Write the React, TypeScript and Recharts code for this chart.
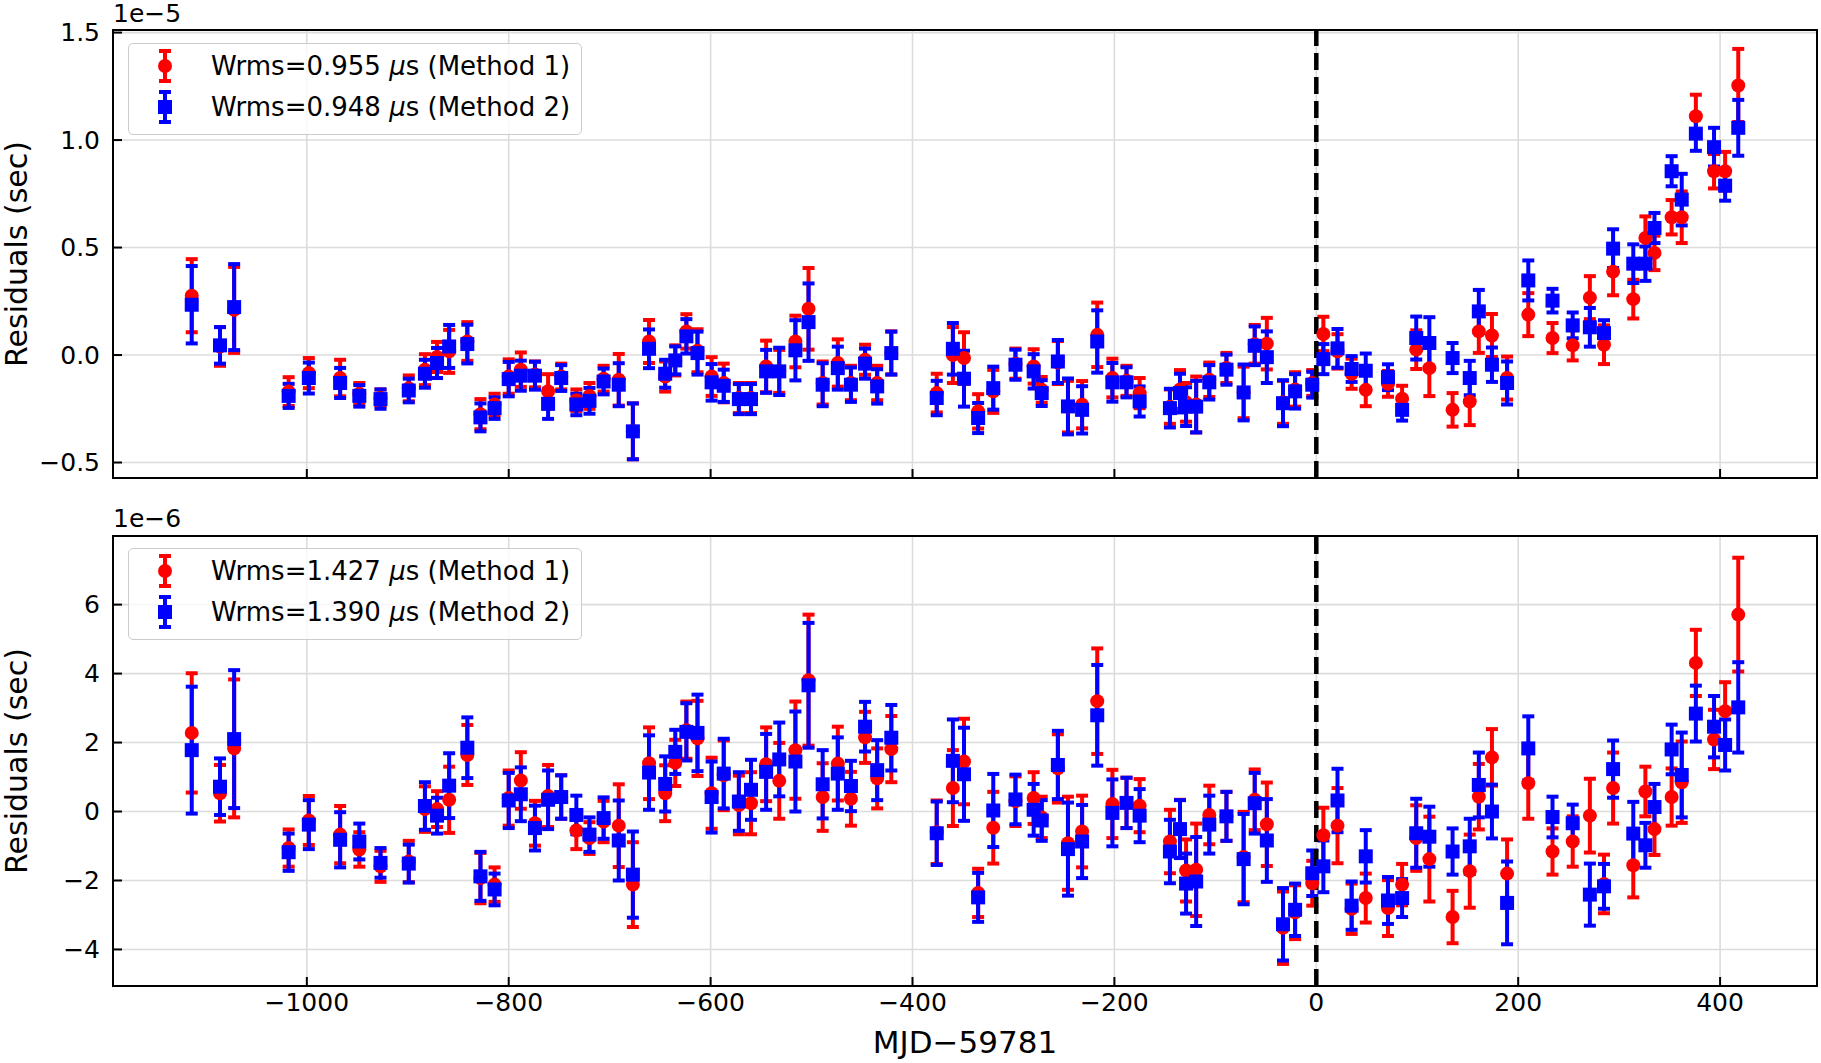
import React from 'react';
import {
  ScatterChart,
  Scatter,
  XAxis,
  YAxis,
  CartesianGrid,
  ErrorBar,
  ReferenceLine,
  ReferenceArea,
} from 'recharts';

// ---------------- data ----------------
const mjd = [
  -1114, -1086, -1072, -1018, -998, -967, -948, -927, -899, -883,
  -871, -859, -841, -828, -814, -800, -788, -774, -761, -748,
  -733, -720, -706, -691, -677, -661, -645, -635, -624, -613,
  -599, -587, -572, -560, -545, -532, -516, -503, -489, -474,
  -461, -447, -435, -421, -376, -360, -349, -335, -320, -298,
  -280, -272, -256, -246, -232, -217, -202, -188, -175, -145,
  -135, -129, -119, -106, -89, -72, -61, -49, -33, -21,
  -4, 7, 21, 35, 49, 71, 85, 99, 112, 135,
  152, 161, 174, 189, 210, 234, 254, 271, 285, 294,
  314, 326, 335, 352, 362, 376, 394, 405, 418,
];

// top panel (units of 1e-5 s)
const topMethod1 = [
  0.276, 0.04, 0.21, -0.17, -0.084, -0.107, -0.18, -0.2, -0.155, -0.068,
  -0.009, 0.017, 0.063, -0.275, -0.23, -0.1, -0.068, -0.09, -0.169, -0.1,
  -0.21, -0.19, -0.11, -0.115, -0.355, 0.063, -0.1, -0.025, 0.11, 0.02,
  -0.1, -0.13, -0.2, -0.2, -0.053, -0.076, 0.063, 0.215, -0.13, -0.037,
  -0.13, -0.022, -0.13, 0.01, -0.177, 0.0, -0.014, -0.262, -0.169, -0.04,
  -0.053, -0.162, -0.035, -0.24, -0.231, 0.094, -0.107, -0.12, -0.177, -0.24,
  -0.16, -0.22, -0.23, -0.115, -0.06, -0.174, 0.05, 0.053, -0.22, -0.16,
  -0.13, 0.098, 0.017, -0.087, -0.162, -0.134, -0.203, 0.025, -0.061, -0.255,
  -0.216, 0.11, 0.091, -0.107, 0.188, 0.079, 0.045, 0.267, 0.048, 0.388,
  0.26, 0.545, 0.475, 0.641, 0.641, 1.111, 0.855, 0.855, 1.254,
];
const topMethod1Err = [
  0.17, 0.09, 0.2, 0.067, 0.07, 0.085, 0.05, 0.04, 0.06, 0.072,
  0.07, 0.1, 0.09, 0.07, 0.05, 0.08, 0.08, 0.06, 0.08, 0.06,
  0.05, 0.06, 0.06, 0.12, 0.13, 0.1, 0.07, 0.07, 0.08, 0.1,
  0.09, 0.09, 0.07, 0.07, 0.12, 0.1, 0.12, 0.19, 0.1, 0.11,
  0.08, 0.07, 0.08, 0.1, 0.09, 0.13, 0.12, 0.08, 0.1, 0.07,
  0.08, 0.06, 0.1, 0.12, 0.11, 0.15, 0.09, 0.07, 0.07, 0.08,
  0.09, 0.09, 0.13, 0.08, 0.07, 0.12, 0.09, 0.12, 0.1, 0.08,
  0.06, 0.08, 0.08, 0.07, 0.076, 0.06, 0.06, 0.09, 0.13, 0.078,
  0.11, 0.1, 0.1, 0.1, 0.1, 0.07, 0.07, 0.1, 0.09, 0.11,
  0.09, 0.1, 0.08, 0.08, 0.12, 0.1, 0.08, 0.09, 0.17,
];
const topMethod2 = [
  0.234, 0.045, 0.223, -0.19, -0.107, -0.13, -0.19, -0.205, -0.165, -0.087,
  -0.037, 0.04, 0.051, -0.29, -0.247, -0.112, -0.096, -0.096, -0.227, -0.107,
  -0.23, -0.213, -0.123, -0.138, -0.355, 0.029, -0.087, -0.025, 0.087, 0.009,
  -0.127, -0.143, -0.205, -0.205, -0.076, -0.076, 0.022, 0.153, -0.138, -0.061,
  -0.138, -0.04, -0.146, 0.009, -0.2, 0.029, -0.11, -0.293, -0.154, -0.045,
  -0.076, -0.177, -0.03, -0.239, -0.255, 0.063, -0.127, -0.127, -0.216, -0.247,
  -0.177, -0.24, -0.24, -0.127, -0.068, -0.174, 0.043, -0.01, -0.224, -0.169,
  -0.138, -0.019, 0.031, -0.065, -0.073, -0.103, -0.255, 0.079, 0.056, -0.014,
  -0.107, 0.203, -0.045, -0.13, 0.347, 0.253, 0.138, 0.129, 0.102, 0.495,
  0.425, 0.425, 0.591, 0.855, 0.723, 1.03, 0.967, 0.788, 1.057,
];
const topMethod2Err = [
  0.18, 0.085, 0.2, 0.056, 0.072, 0.07, 0.05, 0.045, 0.055, 0.065,
  0.07, 0.1, 0.09, 0.065, 0.05, 0.08, 0.07, 0.065, 0.07, 0.06,
  0.05, 0.06, 0.06, 0.1, 0.13, 0.09, 0.065, 0.065, 0.08, 0.1,
  0.085, 0.075, 0.07, 0.07, 0.1, 0.11, 0.14, 0.18, 0.1, 0.1,
  0.08, 0.07, 0.08, 0.1, 0.08, 0.12, 0.13, 0.07, 0.1, 0.07,
  0.08, 0.06, 0.1, 0.13, 0.11, 0.145, 0.09, 0.07, 0.07, 0.09,
  0.09, 0.09, 0.12, 0.08, 0.07, 0.13, 0.09, 0.12, 0.107, 0.08,
  0.06, 0.07, 0.09, 0.06, 0.08, 0.06, 0.05, 0.1, 0.12, 0.07,
  0.08, 0.1, 0.08, 0.1, 0.093, 0.055, 0.06, 0.09, 0.06, 0.09,
  0.09, 0.08, 0.07, 0.07, 0.12, 0.08, 0.09, 0.07, 0.13,
];

// bottom panel (units of 1e-6 s)
const botMethod1 = [
  2.28, 0.53, 1.83, -1.06, -0.26, -0.67, -1.1, -1.59, -1.45, 0.07,
  0.07, 0.34, 1.64, -1.93, -2.12, 0.39, 0.9, -0.34, 0.45, 0.42,
  -0.55, -0.77, -0.29, -0.41, -2.12, 1.4, 0.53, 1.41, 2.36, 2.12,
  0.53, 1.05, 0.19, 0.24, 1.37, 0.89, 1.78, 3.81, 0.42, 1.39,
  0.37, 2.15, 0.96, 1.81, -0.6, 0.68, 1.45, -2.36, -0.47, 0.3,
  0.39, -0.17, 1.25, -0.92, -0.58, 3.2, 0.22, 0.25, 0.17, -0.87,
  -0.5, -1.71, -1.69, -0.1, -0.14, -1.32, 0.34, -0.37, -3.37, -2.92,
  -2.08, -0.69, -0.41, -2.82, -2.51, -2.8, -2.12, -0.77, -1.38, -3.06,
  -1.73, 0.43, 1.57, -1.8, 0.82, -1.16, -0.87, -0.12, -2.1, 0.68,
  -1.56, 0.58, -0.51, 0.42, 0.85, 4.31, 2.09, 2.91, 5.71,
];
const botMethod1Err = [
  1.73, 0.82, 2.0, 0.54, 0.71, 0.83, 0.5, 0.45, 0.6, 0.66,
  0.52, 0.96, 0.87, 0.73, 0.5, 0.8, 0.82, 0.65, 0.9, 0.63,
  0.54, 0.46, 0.6, 1.2, 1.23, 1.04, 0.81, 0.67, 0.83, 1.09,
  1.03, 1.01, 0.85, 0.9, 1.07, 1.1, 1.41, 1.9, 0.98, 1.07,
  0.78, 0.74, 0.87, 0.96, 0.92, 1.1, 1.24, 0.7, 1.04, 0.72,
  0.75, 0.6, 0.99, 1.35, 1.04, 1.53, 0.99, 0.73, 0.77, 0.92,
  0.84, 0.9, 1.34, 0.85, 0.71, 1.31, 0.88, 1.21, 1.05, 0.78,
  0.65, 0.8, 1.09, 0.73, 0.71, 0.81, 0.6, 0.95, 1.23, 0.76,
  1.06, 0.95, 0.82, 0.99, 1.03, 0.67, 0.73, 1.07, 0.85, 1.03,
  0.93, 0.72, 0.75, 0.83, 1.18, 0.96, 0.86, 0.84, 1.65,
];
const botMethod2 = [
  1.78, 0.72, 2.1, -1.18, -0.38, -0.82, -0.87, -1.49, -1.51, 0.16,
  -0.12, 0.75, 1.85, -1.88, -2.26, 0.32, 0.5, -0.48, 0.34, 0.42,
  -0.1, -0.67, -0.19, -0.84, -1.83, 1.13, 0.8, 1.73, 2.31, 2.28,
  0.42, 1.1, 0.29, 0.63, 1.15, 1.51, 1.45, 3.66, 0.79, 1.1,
  0.74, 2.46, 1.2, 2.14, -0.63, 1.47, 1.08, -2.49, 0.03, 0.35,
  0.05, -0.26, 1.35, -1.09, -0.87, 2.79, -0.04, 0.25, -0.12, -1.16,
  -0.51, -2.09, -2.03, -0.38, -0.14, -1.38, 0.24, -0.84, -3.27, -2.85,
  -1.79, -1.59, 0.32, -2.73, -1.3, -2.58, -2.51, -0.63, -0.73, -1.16,
  -1.01, 0.77, 0.0, -2.65, 1.83, -0.16, -0.34, -2.41, -2.17, 1.23,
  -0.64, -0.98, 0.13, 1.8, 1.06, 2.84, 2.46, 1.93, 3.02,
];
const botMethod2Err = [
  1.84, 0.82, 2.0, 0.54, 0.71, 0.8, 0.52, 0.43, 0.55, 0.69,
  0.52, 0.94, 0.88, 0.71, 0.46, 0.8, 0.78, 0.65, 0.85, 0.63,
  0.56, 0.5, 0.6, 1.16, 1.25, 1.08, 0.8, 0.64, 0.83, 1.11,
  1.03, 1.01, 0.85, 0.87, 1.1, 1.07, 1.45, 1.81, 0.99, 1.05,
  0.73, 0.72, 0.87, 0.95, 0.92, 1.2, 1.35, 0.71, 1.06, 0.72,
  0.75, 0.59, 0.99, 1.35, 1.06, 1.46, 0.97, 0.73, 0.77, 0.92,
  0.84, 0.87, 1.29, 0.84, 0.71, 1.31, 0.88, 1.2, 1.05, 0.76,
  0.66, 0.75, 0.92, 0.7, 0.76, 0.68, 0.55, 1.0, 0.87, 0.67,
  0.8, 0.94, 0.78, 1.2, 0.93, 0.59, 0.54, 0.9, 0.65, 0.83,
  0.92, 0.65, 0.67, 0.72, 1.23, 0.81, 0.89, 0.74, 1.31,
];

const xTicks = [-1000, -800, -600, -400, -200, 0, 200, 400];
const topYTicks = [-0.5, 0, 0.5, 1.0, 1.5];
const botYTicks = [-4, -2, 0, 2, 4, 6];
const topLegend = ['0.955', '0.948'];
const botLegend = ['1.427', '1.390'];

// ---------------- helpers ----------------
const FONT = "'DejaVu Sans', sans-serif";
const RED = '#ff0000';
const BLUE = '#0000ff';
const X_DOMAIN: [number, number] = [-1192, 496];
const TICK_FONT = 25;

const rows = (ys: number[], es: number[]) =>
  mjd.map((x, i) => ({ x, y: ys[i], e: es[i] }));

const minus = (s: string) => s.replace('-', '\u2212');
const fmtX = (v: number) => minus(String(v));
const fmt1 = (v: number) => minus(v.toFixed(1));
const fmt0 = (v: number) => minus(v.toFixed(0));

const RedDot = (p: any) =>
  p.cx == null ? null : <circle cx={p.cx} cy={p.cy} r={7} fill={RED} />;
const BlueSquare = (p: any) =>
  p.cx == null ? null : (
    <rect x={p.cx - 7} y={p.cy - 7} width={14} height={14} fill={BLUE} />
  );

const LegendMarker = ({ color, square }: { color: string; square: boolean }) => (
  <svg width={24} height={34} style={{ display: 'block' }}>
    <line x1={12} y1={2} x2={12} y2={32} stroke={color} strokeWidth={4} />
    <line x1={6} y1={2} x2={18} y2={2} stroke={color} strokeWidth={4} />
    <line x1={6} y1={32} x2={18} y2={32} stroke={color} strokeWidth={4} />
    {square ? (
      <rect x={5} y={10} width={14} height={14} fill={color} />
    ) : (
      <circle cx={12} cy={17} r={7} fill={color} />
    )}
  </svg>
);

const LegendBox = ({ top, values }: { top: number; values: string[] }) => (
  <div
    style={{
      position: 'absolute',
      left: 128,
      top,
      width: 454,
      height: 92,
      boxSizing: 'border-box',
      border: '1.5px solid #cccccc',
      borderRadius: 5,
      background: 'rgba(255,255,255,0.8)',
      fontFamily: FONT,
      fontSize: 26,
      color: '#000',
    }}
  >
    {values.map((v, i) => (
      <div
        key={i}
        style={{
          position: 'absolute',
          left: 0,
          top: i === 0 ? 5 : 46,
          height: 34,
          display: 'flex',
          alignItems: 'center',
          whiteSpace: 'nowrap',
        }}
      >
        <div style={{ width: 24, marginLeft: 24 }}>
          <LegendMarker color={i === 0 ? RED : BLUE} square={i === 1} />
        </div>
        <span style={{ marginLeft: 34 }}>
          Wrms={v} <i>μ</i>s (Method {i + 1})
        </span>
      </div>
    ))}
  </div>
);

type PanelProps = {
  top: number;
  height: number;
  margin: { top: number; right: number; bottom: number; left: number };
  yDomain: [number, number];
  yTicks: number[];
  yFmt: (v: number) => string;
  m1: number[];
  m1e: number[];
  m2: number[];
  m2e: number[];
  showXLabels: boolean;
  xAxisHeight: number;
};

const Panel = (p: PanelProps) => {
  const d1 = rows(p.m1, p.m1e);
  const d2 = rows(p.m2, p.m2e);
  return (
    <div style={{ position: 'absolute', left: 0, top: p.top }}>
      <ScatterChart width={1821} height={p.height} margin={p.margin}>
        <CartesianGrid stroke="#dcdcdc" strokeWidth={1.6} />
        <XAxis
          type="number"
          dataKey="x"
          domain={X_DOMAIN}
          ticks={xTicks}
          allowDataOverflow
          height={p.xAxisHeight}
          axisLine={false}
          tickSize={-9}
          tickMargin={16}
          tickLine={{ stroke: '#000', strokeWidth: 2 }}
          tick={{ fill: '#000', fontSize: TICK_FONT, fontFamily: FONT }}
          tickFormatter={p.showXLabels ? fmtX : () => ''}
          interval={0}
        />
        <YAxis
          type="number"
          dataKey="y"
          domain={p.yDomain}
          ticks={p.yTicks}
          allowDataOverflow
          width={113}
          axisLine={false}
          tickSize={-9}
          tickMargin={22}
          tickLine={{ stroke: '#000', strokeWidth: 2 }}
          tick={{ fill: '#000', fontSize: TICK_FONT, fontFamily: FONT }}
          tickFormatter={p.yFmt}
          interval={0}
        />
        <Scatter data={d1} fill={RED} shape={RedDot} isAnimationActive={false}>
          <ErrorBar dataKey="e" direction="y" stroke={RED} strokeWidth={4} width={6} />
        </Scatter>
        <Scatter data={d2} fill={BLUE} shape={BlueSquare} isAnimationActive={false}>
          <ErrorBar dataKey="e" direction="y" stroke={BLUE} strokeWidth={4} width={6} />
        </Scatter>
        <ReferenceLine
          x={0}
          stroke="#000"
          strokeWidth={4.5}
          strokeDasharray="17 7"
        />
        <ReferenceArea
          x1={X_DOMAIN[0]}
          x2={X_DOMAIN[1]}
          y1={p.yDomain[0]}
          y2={p.yDomain[1]}
          fill="none"
          fillOpacity={0}
          stroke="#000"
          strokeWidth={2}
          ifOverflow="visible"
        />
      </ScatterChart>
    </div>
  );
};

const textStyle: React.CSSProperties = {
  position: 'absolute',
  fontFamily: FONT,
  color: '#000',
  whiteSpace: 'nowrap',
};

export default function App() {
  return (
    <div
      style={{
        position: 'absolute',
        left: 0,
        top: 0,
        width: 1821,
        height: 1063,
        background: '#fff',
        overflow: 'hidden',
        fontFamily: FONT,
      }}
    >
      <Panel
        top={0}
        height={500}
        margin={{ top: 30, right: 4, bottom: 2, left: 0 }}
        xAxisHeight={20}
        yDomain={[-0.572, 1.512]}
        yTicks={topYTicks}
        yFmt={fmt1}
        m1={topMethod1}
        m1e={topMethod1Err}
        m2={topMethod2}
        m2e={topMethod2Err}
        showXLabels={false}
      />
      <Panel
        top={500}
        height={563}
        margin={{ top: 36, right: 4, bottom: 37, left: 0 }}
        xAxisHeight={40}
        yDomain={[-5.06, 7.99]}
        yTicks={botYTicks}
        yFmt={fmt0}
        m1={botMethod1}
        m1e={botMethod1Err}
        m2={botMethod2}
        m2e={botMethod2Err}
        showXLabels={true}
      />

      <LegendBox top={43} values={topLegend} />
      <LegendBox top={548} values={botLegend} />

      <div style={{ ...textStyle, left: 113, top: -1, fontSize: TICK_FONT, lineHeight: '30px' }}>
        1e{'\u2212'}5
      </div>
      <div style={{ ...textStyle, left: 113, top: 504, fontSize: TICK_FONT, lineHeight: '30px' }}>
        1e{'\u2212'}6
      </div>

      <div
        style={{
          ...textStyle,
          left: 16,
          top: 254,
          fontSize: 30,
          transform: 'translate(-50%, -50%) rotate(-90deg)',
        }}
      >
        Residuals (sec)
      </div>
      <div
        style={{
          ...textStyle,
          left: 16,
          top: 761,
          fontSize: 30,
          transform: 'translate(-50%, -50%) rotate(-90deg)',
        }}
      >
        Residuals (sec)
      </div>
      <div
        style={{
          ...textStyle,
          left: 965,
          top: 1042,
          fontSize: 31,
          transform: 'translate(-50%, -50%)',
        }}
      >
        MJD{'\u2212'}59781
      </div>
    </div>
  );
}
